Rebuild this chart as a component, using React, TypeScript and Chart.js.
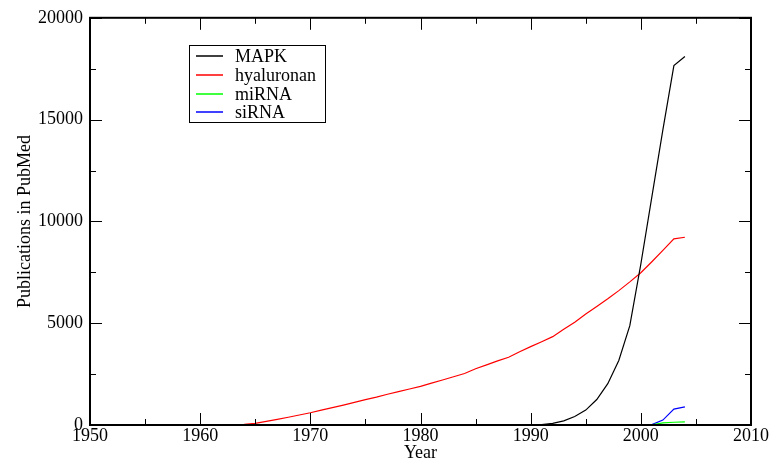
import React, { useEffect, useRef } from "react";
import { Chart, registerables } from "chart.js";

Chart.register(...registerables);

const years = [
  1953, 1954, 1955, 1956, 1957, 1958, 1959, 1960, 1961, 1962,
  1963, 1964, 1965, 1966, 1967, 1968, 1969, 1970, 1971, 1972,
  1973, 1974, 1975, 1976, 1977, 1978, 1979, 1980, 1981, 1982,
  1983, 1984, 1985, 1986, 1987, 1988, 1989, 1990, 1991, 1992,
  1993, 1994, 1995, 1996, 1997, 1998, 1999, 2000, 2001, 2002,
  2003, 2004,
];

const mapk = [
  0, 0, 0, 0, 0, 0, 0, 0, 0, 0,
  0, 0, 0, 0, 0, 0, 0, 0, 0, 0,
  0, 0, 0, 0, 0, 0, 0, 0, 0, 0,
  0, 0, 0, 0, 0, 0, 0, 0, 20, 80,
  200, 420, 730, 1250, 2030, 3170, 4880, 7900, 11200, 14500,
  17650, 18100,
];

const hyaluronan = [
  0, 0, 0, 0, 0, 2, 3, 5, 6, 8,
  15, 35, 80, 180, 280, 380, 490, 600, 730, 850,
  980, 1110, 1250, 1370, 1510, 1640, 1770, 1900, 2060, 2210,
  2370, 2530, 2760, 2950, 3150, 3330, 3600, 3850, 4090, 4340,
  4700, 5050, 5450, 5820, 6200, 6600, 7030, 7480, 8020, 8580,
  9140, 9220,
];

const mirna = [
  0, 0, 0, 0, 0, 0, 0, 0, 0, 0,
  0, 0, 0, 0, 0, 0, 0, 0, 0, 0,
  0, 0, 0, 0, 0, 0, 0, 0, 0, 0,
  0, 0, 0, 0, 0, 0, 0, 0, 0, 0,
  0, 0, 0, 0, 0, 0, 0, 0, 10, 100,
  135, 150,
];

const sirna = [
  0, 0, 0, 0, 0, 0, 0, 0, 0, 0,
  0, 0, 0, 0, 0, 0, 0, 0, 0, 0,
  0, 0, 0, 0, 0, 0, 0, 0, 0, 0,
  0, 0, 0, 0, 0, 0, 0, 0, 0, 0,
  0, 0, 0, 0, 0, 0, 0, 0, 20, 240,
  780, 890,
];

const seriesNames = ["MAPK", "hyaluronan", "miRNA", "siRNA"];
const seriesColors = ["#000000", "#ff0000", "#00ff00", "#0000ff"];

const xTicks = [1950, 1960, 1970, 1980, 1990, 2000, 2010];
const xMinorTicks = [1955, 1965, 1975, 1985, 1995, 2005];
const yTicks = [0, 5000, 10000, 15000, 20000];
const yMinorTicks = [2500, 7500, 12500, 17500];

const FONT = "'Liberation Serif', 'Times New Roman', serif";

const framePlugin = {
  id: "frameTicks",
  afterDatasetsDraw(chart: any) {
    const { ctx, chartArea, scales } = chart;
    const { left, right, top, bottom } = chartArea;
    ctx.save();
    ctx.strokeStyle = "#000";
    ctx.lineWidth = 1;
    const major = 12;
    const minor = 6;
    ctx.beginPath();
    const xt = (v: number, len: number) => {
      const px = Math.round(scales.x.getPixelForValue(v)) + 0.5;
      ctx.moveTo(px, bottom);
      ctx.lineTo(px, bottom - len);
      ctx.moveTo(px, top);
      ctx.lineTo(px, top + len);
    };
    const yt = (v: number, len: number) => {
      const py = Math.round(scales.y.getPixelForValue(v)) + 0.5;
      ctx.moveTo(left, py);
      ctx.lineTo(left + len, py);
      ctx.moveTo(right, py);
      ctx.lineTo(right - len, py);
    };
    xTicks.forEach((v) => xt(v, major));
    xMinorTicks.forEach((v) => xt(v, minor));
    yTicks.forEach((v) => yt(v, major));
    yMinorTicks.forEach((v) => yt(v, minor));
    ctx.stroke();
    ctx.lineWidth = 2;
    ctx.strokeRect(left, top, right - left, bottom - top);

    // legend box
    const bx = 189, by = 45, bw = 136, bh = 77;
    ctx.fillStyle = "#fff";
    ctx.fillRect(bx, by, bw, bh);
    ctx.lineWidth = 1;
    ctx.strokeStyle = "#000";
    ctx.strokeRect(bx + 0.5, by + 0.5, bw, bh);
    ctx.font = `18px ${FONT}`;
    ctx.textBaseline = "middle";
    ctx.textAlign = "left";
    const rows = [56, 75, 94, 112];
    seriesNames.forEach((name, i) => {
      const y = rows[i];
      ctx.beginPath();
      ctx.strokeStyle = seriesColors[i];
      ctx.lineWidth = 1.5;
      ctx.moveTo(196, y);
      ctx.lineTo(223, y);
      ctx.stroke();
      ctx.fillStyle = "#000";
      ctx.fillText(name, 235, rows[i] + 1);
    });
    ctx.restore();
  },
};

export default function App() {
  const ref = useRef<HTMLCanvasElement>(null);
  useEffect(() => {
    if (!ref.current) return;
    const all = [mapk, hyaluronan, mirna, sirna];
    const chart = new Chart(ref.current, {
      type: "scatter",
      data: {
        datasets: all.map((vals, i) => ({
          label: seriesNames[i],
          data: years.map((yr, j) => ({ x: yr, y: vals[j] })),
          showLine: true,
          borderColor: seriesColors[i],
          backgroundColor: seriesColors[i],
          borderWidth: 1.2,
          pointRadius: 0,
          tension: 0,
        })),
      },
      options: {
        animation: false,
        responsive: false,
        devicePixelRatio: 1,
        layout: { padding: { top: 16, right: 20, left: 0, bottom: 0 } },
        plugins: { legend: { display: false }, tooltip: { enabled: false } },
        scales: {
          x: {
            type: "linear",
            min: 1950,
            max: 2010,
            grid: { display: false, drawTicks: false },
            border: { display: false },
            afterBuildTicks: (s: any) => {
              s.ticks = xTicks.map((v) => ({ value: v }));
            },
            afterFit: (s: any) => {
              s.height = 37;
            },
            ticks: {
              color: "#000",
              padding: 0,
              maxRotation: 0,
              autoSkip: false,
              font: { family: FONT, size: 18 },
              callback: (v: any) => String(v),
            },
            title: {
              display: true,
              text: "Year",
              color: "#000",
              font: { family: FONT, size: 18, lineHeight: 1 },
              padding: { top: 0, bottom: 0 },
            },
          },
          y: {
            type: "linear",
            min: 0,
            max: 20000,
            grid: { display: false, drawTicks: false },
            border: { display: false },
            afterBuildTicks: (s: any) => {
              s.ticks = yTicks.map((v) => ({ value: v }));
            },
            afterFit: (s: any) => {
              s.width = 90;
            },
            ticks: {
              color: "#000",
              padding: 7,
              autoSkip: false,
              font: { family: FONT, size: 18 },
              callback: (v: any) => String(v),
            },
            title: {
              display: true,
              text: "Publications in PubMed",
              color: "#000",
              font: { family: FONT, size: 18 },
              padding: { top: 14, bottom: 0 },
            },
          },
        },
      },
      plugins: [framePlugin],
    });
    return () => chart.destroy();
  }, []);
  return (
    <div style={{ position: "absolute", left: 0, top: 0, width: 771, height: 462, background: "#fff" }}>
      <canvas ref={ref} width={771} height={462} style={{ width: 771, height: 462, display: "block" }} />
    </div>
  );
}
